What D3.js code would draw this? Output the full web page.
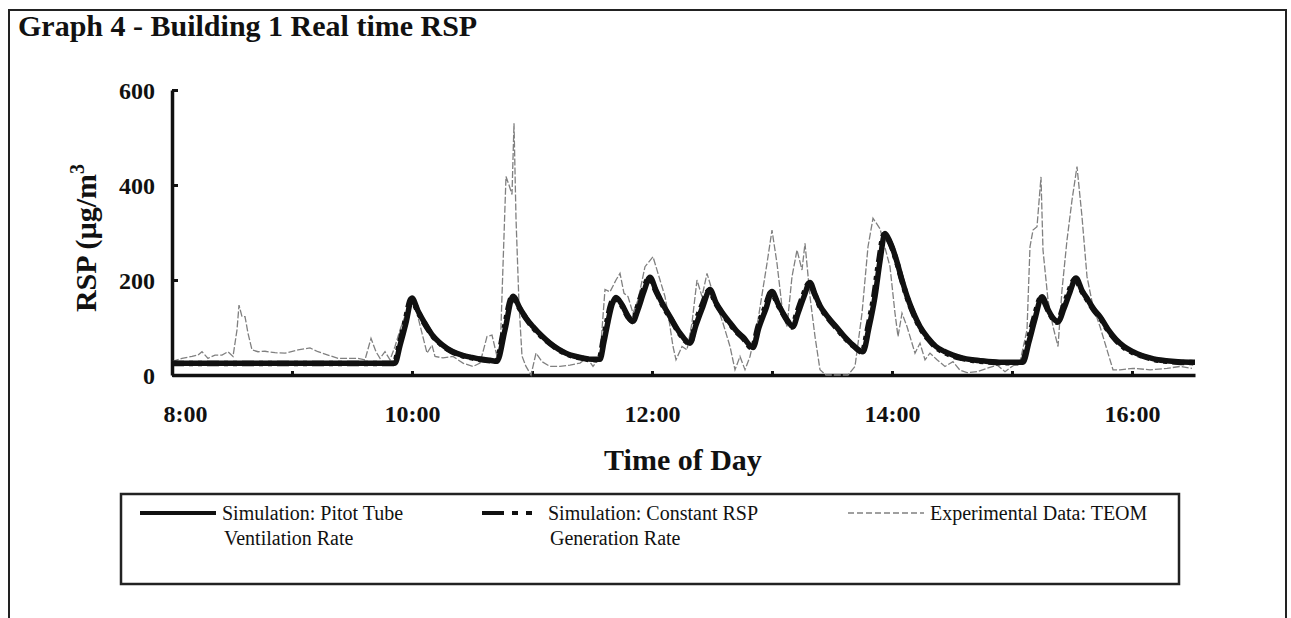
<!DOCTYPE html>
<html>
<head>
<meta charset="utf-8">
<script src="https://cdn.jsdelivr.net/npm/d3@7"></script>
<style>
  body { margin: 0; background: #fff; }
  svg { display: block; font-family: "Liberation Serif", "Times New Roman", serif; }
  .axis text { font-family: "Liberation Serif", "Times New Roman", serif; font-weight: bold; font-size: 24px; fill: #111; }
  .axis .domain { stroke: #111; stroke-width: 3.5; }
  .axis .tick line { stroke: #111; stroke-width: 3; }
</style>
</head>
<body>
<div id="chart"></div>
<script>
// minutes after 8:00, RSP in ug/m3
const pitot = [[0,25],[111.5,25],[114,62],[117,110],[120,162],[123,135],[126,112],[130,85],[135,64],[140,50],[145,42],[150,37],[155,33],[159,31],[162.5,29],[166.5,95],[170.5,166],[174,140],[177,120],[180.5,102],[185,82],[189,67],[193,55],[197,46],[201,40],[205.5,36],[210,33],[214,33],[216,70],[218,112],[220,148],[222,163],[225,148],[228,124],[230.5,113],[233,138],[236,176],[239,206],[242,178],[245,152],[249,123],[254,88],[259,67],[262,105],[265.5,145],[269,180],[272,152],[275,132],[279,110],[282,94],[285.5,80],[290.5,58],[293.5,100],[297,140],[300,176],[303,150],[307,120],[310.5,102],[313,130],[316,165],[319,195],[321.5,170],[324,146],[328,122],[332,102],[336,82],[340.5,63],[345.5,49],[348.5,100],[351.5,165],[354,240],[356.5,298],[359,280],[362,245],[365,200],[368,160],[371,128],[374,102],[378,78],[382,60],[386,50],[390.5,42],[395,36],[400,32],[407,29],[415,27],[425.5,27],[428.5,70],[431.5,118],[435,165],[438,138],[440.5,120],[443,112],[446,140],[449,175],[452,204],[455,178],[458,158],[461,138],[464,123],[468,96],[472,75],[476,60],[480.5,49],[485,41],[489,36],[493,32],[497,30],[503,28],[511.5,27]];

const constGen = [[0,24],[111,24],[113.5,62],[116.5,112],[119.5,160],[123,133],[126,110],[130,84],[135,63],[140,49],[145,41],[150,36],[155,32],[159,30],[162,29],[166,97],[170,164],[174,139],[177,119],[180.5,100],[185,80],[189,66],[193,54],[197,45],[201,39],[205.5,35],[210,32],[213.5,32],[215.5,72],[217.5,114],[219.5,150],[221.5,161],[225,146],[228,122],[230.5,112],[232.5,140],[235.5,178],[238.5,204],[242,176],[245,150],[249,121],[254,86],[259,66],[261.5,107],[265,147],[268.5,178],[272,150],[275,130],[279,108],[282,92],[285.5,78],[290,57],[293,102],[296.5,142],[299.5,174],[303,148],[307,118],[310,101],[312.5,132],[315.5,167],[318.5,193],[321.5,168],[324,144],[328,120],[332,100],[336,80],[340.5,62],[345,48],[348,102],[351,168],[353.5,243],[356,296],[359,278],[362,243],[365,198],[368,158],[371,126],[374,100],[378,76],[382,58],[386,48],[390.5,40],[395,35],[400,31],[407,28],[415,26],[425,26],[428,72],[431,120],[434.5,163],[438,136],[440.5,118],[442.5,111],[445.5,142],[448.5,177],[451.5,202],[455,176],[458,156],[461,136],[464,121],[468,94],[472,73],[476,58],[480.5,47],[485,40],[489,35],[493,31],[497,29],[503,27],[511.5,26]];

const teom = [[0,28],[5,35],[10,39],[13,42],[15,49],[18,35],[21.5,42],[25,42],[28,49],[30.5,39],[32.5,95],[33.5,147],[35,123],[36.5,123],[38,88],[40,53],[43,49],[46.5,50],[51.5,47],[56.5,46],[63,53],[69,57],[73,49],[78,42],[83,35],[88,35],[93,35],[96.5,32],[99.5,77],[102,49],[104,35],[106.5,49],[109,32],[111.5,60],[114,95],[117,130],[119.5,158],[122.5,130],[125,88],[127.5,46],[130,63],[131.5,39],[135.5,36],[140.5,39],[145.5,25],[150.5,18],[154,25],[157.5,81],[160,84],[162.5,39],[164,40],[165.5,230],[167,418],[168.5,400],[170,380],[171,530],[172,330],[173.5,150],[175,40],[177,18],[179.5,0],[182,46],[185,28],[189,18],[194,18],[199,21],[204,25],[207.5,36],[210.5,18],[214,39],[216.5,180],[219,175],[222,200],[224,214],[226,172],[228,165],[230.5,130],[233,158],[236.5,228],[240.5,249],[244,200],[246.5,165],[248,130],[250.5,60],[252,32],[255,60],[257.5,53],[260,110],[262.5,200],[265,165],[267.5,214],[270.5,172],[275.5,109],[279,60],[281.5,11],[284,39],[286.5,11],[289,39],[293,116],[297.5,235],[300,305],[302.5,235],[305,144],[307.5,102],[310,207],[312.5,263],[315,221],[316.5,277],[319,165],[321.5,81],[324,11],[327,0],[333,0],[338,0],[341.5,18],[345,130],[348,270],[350.5,330],[354,308],[359,228],[361.5,130],[363,81],[365,130],[367.5,102],[371.5,46],[374,67],[376.5,32],[379,46],[382.5,32],[386.5,18],[390.5,28],[394,10],[397.5,5],[402.5,7],[407.5,14],[412.5,21],[416.5,7],[420,18],[424,28],[427.5,95],[429,270],[430.5,305],[432.5,312],[434.5,417],[435.5,263],[438,158],[440.5,102],[443,60],[445,179],[447.5,284],[450,368],[452.5,439],[455,333],[457.5,207],[460.5,144],[464,102],[467.5,53],[470.5,11],[474,11],[480.5,14],[489,11],[497.5,14],[504,18],[510,14]];

const hourTicks = [0, 60, 120, 180, 240, 300, 360, 420, 480];
const hourLabels = {0: "8:00", 120: "10:00", 240: "12:00", 360: "14:00", 480: "16:00"};
const yTicks = [0, 200, 400, 600];
const legendItems = [
    {lines: ["Simulation: Pitot Tube", "Ventilation Rate"], type: "pitot"},
    {lines: ["Simulation: Constant RSP", "Generation Rate"], type: "const"},
    {lines: ["Experimental Data: TEOM"], type: "teom"}
];

const W = 1291, H = 618;

const svg = d3.select("#chart").append("svg")
    .attr("width", W)
    .attr("height", H);

// outer frame
svg.append("rect")
    .attr("x", 9).attr("y", 10)
    .attr("width", 1277).attr("height", 620)
    .attr("fill", "none")
    .attr("stroke", "#222")
    .attr("stroke-width", 2);

svg.append("text")
    .attr("x", 18).attr("y", 36)
    .style("font-weight", "bold")
    .style("font-size", "30px")
    .attr("fill", "#111")
    .text("Graph 4 - Building 1 Real time RSP");

const x = d3.scaleLinear().domain([0, 511.5]).range([172, 1195]);
const y = d3.scaleLinear().domain([0, 600]).range([375, 90]);

// x axis, ticks point up into the plot
const xAxis = svg.append("g")
    .attr("class", "axis")
    .attr("transform", `translate(0,${y(0)})`)
    .call(d3.axisBottom(x)
        .tickValues(hourTicks)
        .tickSizeInner(-4)
        .tickSizeOuter(0)
        .tickPadding(30)
        .tickFormat(d => hourLabels[d] || ""));
xAxis.selectAll(".tick text")
    .attr("dx", d => d === 0 ? 13 : 0);

const yAxis = svg.append("g")
    .attr("class", "axis")
    .attr("transform", `translate(${x(0)},0)`)
    .call(d3.axisLeft(y)
        .tickValues(yTicks)
        .tickSizeInner(-6)
        .tickSizeOuter(0)
        .tickPadding(17));
yAxis.selectAll(".tick text").attr("dy", "0.35em");

// axis titles
svg.append("text")
    .attr("x", 683).attr("y", 470)
    .attr("text-anchor", "middle")
    .style("font-weight", "bold")
    .style("font-size", "30px")
    .attr("fill", "#111")
    .text("Time of Day");

const yTitle = svg.append("text")
    .attr("transform", "translate(96,238) rotate(-90)")
    .attr("text-anchor", "middle")
    .style("font-weight", "bold")
    .style("font-size", "30px")
    .attr("fill", "#111");
yTitle.append("tspan").text("RSP (\u00b5g/m");
yTitle.append("tspan").attr("dy", -12).style("font-size", "20px").text("3");

// series
const line = d3.line()
    .x(d => x(d[0]))
    .y(d => y(d[1]));

const lineSmooth = d3.line()
    .x(d => x(d[0]))
    .y(d => y(d[1]))
    .curve(d3.curveMonotoneX);

const styles = {
    pitot: {stroke: "#111", width: 5.5, dash: null},
    const: {stroke: "#111", width: 5.5, dash: "12,5,4,5,4,5"},
    teom:  {stroke: "#808080", width: 1.3, dash: "7,2"}
};

svg.append("path")
    .datum(teom)
    .attr("d", line)
    .attr("fill", "none")
    .attr("stroke", styles.teom.stroke)
    .attr("stroke-width", styles.teom.width)
    .attr("stroke-dasharray", styles.teom.dash);

svg.append("path")
    .datum(pitot)
    .attr("d", lineSmooth)
    .attr("fill", "none")
    .attr("stroke", styles.pitot.stroke)
    .attr("stroke-width", styles.pitot.width)
    .attr("stroke-linejoin", "round");

svg.append("path")
    .datum(constGen)
    .attr("d", lineSmooth)
    .attr("fill", "none")
    .attr("stroke", styles.const.stroke)
    .attr("stroke-width", styles.const.width)
    .attr("stroke-dasharray", styles.const.dash);

// legend
const lg = svg.append("g");
lg.append("rect")
    .attr("x", 121).attr("y", 494)
    .attr("width", 1058).attr("height", 90)
    .attr("fill", "none")
    .attr("stroke", "#222")
    .attr("stroke-width", 2.5);

const legX = [140, 482, 848];
const sampleW = [76, 60, 76];
legendItems.forEach(function(item, i) {
    const st = styles[item.type];
    lg.append("line")
        .attr("x1", legX[i]).attr("x2", legX[i] + sampleW[i])
        .attr("y1", 513).attr("y2", 513)
        .attr("stroke", st.stroke)
        .attr("stroke-width", item.type === "teom" ? 1.3 : 4)
        .attr("stroke-dasharray", item.type === "const" ? "22,8,6,8,6" : (item.type === "teom" ? "6,3" : null));
    const t = lg.append("text")
        .attr("x", legX[i] + sampleW[i] + 6)
        .attr("y", 520)
        .style("font-size", "20px")
        .attr("fill", "#111");
    item.lines.forEach(function(s, j) {
        t.append("tspan")
            .attr("x", legX[i] + sampleW[i] + 6 + (j > 0 ? 2 : 0))
            .attr("dy", j === 0 ? 0 : 25)
            .text(s);
    });
});
</script>
</body>
</html>
